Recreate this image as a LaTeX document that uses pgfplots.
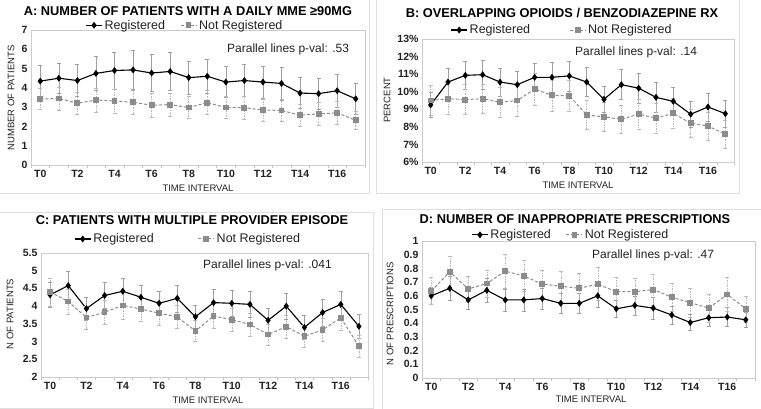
\documentclass[border=0pt]{standalone}
\usepackage{fontspec}
\setmainfont{Liberation Sans}
\usepackage{pgfplots}
\usepackage{pgfplotstable}
\pgfplotsset{compat=1.18}
\definecolor{nrgray}{HTML}{8C8C8C}
\definecolor{txt}{HTML}{222222}

\pgfplotstableread{
x r re n ne
0 4.35 0.80 3.42 0.55
1 4.50 0.80 3.45 0.60
2 4.38 0.82 3.20 0.57
3 4.75 0.90 3.37 0.62
4 4.90 0.95 3.32 0.62
5 4.93 1.00 3.25 0.62
6 4.77 0.97 3.10 0.60
7 4.85 1.00 3.13 0.60
8 4.53 0.87 2.98 0.58
9 4.60 0.87 3.23 0.62
10 4.30 0.80 2.98 0.58
11 4.38 0.83 2.97 0.60
12 4.30 0.82 2.85 0.58
13 4.23 0.85 2.83 0.58
14 3.73 0.80 2.58 0.55
15 3.70 0.82 2.65 0.58
16 3.85 0.85 2.70 0.58
17 3.43 0.80 2.32 0.47
}\dataA

\pgfplotstableread{
x r re n ne
0 9.25 0.70 9.50 0.85
1 10.55 0.80 9.60 0.88
2 10.93 0.80 9.55 0.85
3 10.97 0.82 9.60 0.85
4 10.55 0.80 9.40 0.85
5 10.40 0.78 9.50 0.88
6 10.82 0.80 10.15 0.92
7 10.82 0.85 9.80 0.90
8 10.90 0.85 9.77 0.90
9 10.55 0.82 8.68 0.82
10 9.57 0.72 8.57 0.82
11 10.40 0.85 8.43 0.80
12 10.20 0.85 8.72 0.85
13 9.68 0.83 8.50 0.85
14 9.45 0.80 8.77 0.85
15 8.72 0.75 8.20 0.80
16 9.13 0.80 8.05 0.80
17 8.75 0.75 7.58 0.80
}\dataB

\pgfplotstableread{
x r re n ne
0 4.32 0.35 4.40 0.40
1 4.58 0.40 4.13 0.35
2 3.93 0.32 3.68 0.33
3 4.30 0.37 3.83 0.35
4 4.42 0.37 4.02 0.38
5 4.25 0.35 3.92 0.36
6 4.08 0.35 3.80 0.34
7 4.22 0.38 3.70 0.33
8 3.70 0.32 3.30 0.30
9 4.10 0.37 3.72 0.35
10 4.08 0.36 3.62 0.33
11 4.05 0.36 3.48 0.32
12 3.60 0.34 3.20 0.30
13 4.00 0.36 3.42 0.33
14 3.40 0.33 3.15 0.30
15 3.82 0.38 3.33 0.33
16 4.05 0.38 3.67 0.35
17 3.43 0.33 2.87 0.30
}\dataC

\pgfplotstableread{
x r re n ne
0 0.600 0.065 0.635 0.100
1 0.655 0.090 0.775 0.115
2 0.570 0.070 0.650 0.090
3 0.640 0.085 0.690 0.100
4 0.570 0.080 0.780 0.125
5 0.570 0.080 0.745 0.115
6 0.580 0.075 0.685 0.105
7 0.545 0.070 0.670 0.110
8 0.545 0.070 0.655 0.110
9 0.600 0.080 0.685 0.120
10 0.505 0.065 0.630 0.105
11 0.530 0.070 0.630 0.100
12 0.510 0.080 0.645 0.115
13 0.460 0.065 0.590 0.105
14 0.405 0.060 0.550 0.105
15 0.440 0.065 0.510 0.100
16 0.445 0.070 0.610 0.125
17 0.425 0.055 0.505 0.095
}\dataD

\pgfplotsset{
  panel/.style={
    scale only axis,
    anchor=north west,
    xmin=-0.5, xmax=17.5,
    axis line style={draw=gray!40},
    xtick={0,2,4,6,8,10,12,14,16},
    xticklabels={T0,T2,T4,T6,T8,T10,T12,T14,T16},
    minor xtick={-0.5,0.5,...,17.5},
    xtick pos=bottom, ytick pos=left,
    tick align=outside,
    major tick length=0pt,
    minor tick length=3pt,
    tick style={gray!50},
    ytick style={draw=none},
    tick label style={font=\fontsize{10.5}{12}\selectfont\bfseries, text=txt},
    xticklabel style={yshift=-2pt},
    clip=false,
    legend cell align=left,
    legend image code/.code={\draw[mark repeat=2,mark phase=2,##1] plot coordinates {(0pt,0pt) (8pt,0pt) (16pt,0pt)};},
  },
  reg/.style={black, line width=1.1pt, mark=diamond*, mark size=2.6pt, mark options={solid},
    error bars/y dir=both, error bars/y explicit,
    error bars/error bar style={gray!75, line width=0.5pt, solid},
    error bars/error mark options={gray!75, mark size=2pt, line width=0.5pt, solid, rotate=90}},
  nreg/.style={nrgray, line width=1pt, dash pattern=on 3pt off 2pt, mark=square*, mark size=2.4pt, mark options={solid},
    error bars/y dir=both, error bars/y explicit,
    error bars/error bar style={gray!55, line width=0.5pt, dash pattern=on 1.5pt off 1pt},
    error bars/error mark options={gray!55, mark size=2pt, line width=0.5pt, solid, rotate=90}},
  leg/.style={legend style={at={#1}, anchor=center, draw=none, fill=none, legend columns=2,
    font=\fontsize{12.5}{14}\selectfont, text=txt, inner sep=0pt}},
}

\begin{document}
\begin{tikzpicture}
\path[use as bounding box] (0,0) rectangle (761pt,-409pt);
\draw[gray!25, line width=0.8pt] (-1pt,1pt) rectangle (369pt,-193pt);
\draw[gray!25, line width=0.8pt] (376pt,1pt) rectangle (739pt,-193pt);
\draw[gray!25, line width=0.8pt] (-1pt,-212pt) rectangle (373pt,-408pt);
\draw[gray!25, line width=0.8pt] (382pt,-209pt) rectangle (762pt,-410pt);

% Panel A
\begin{axis}[panel, at={(31pt,-30pt)}, width=334pt, height=135pt,
  ymin=0, ymax=7, ytick={0,1,2,3,4,5,6,7}, yticklabels={0,1,2,3,4,5,6,7},
  leg={(0.461,1.035)}, legend style={/tikz/every even column/.append style={column sep=13pt}}]
\addplot[reg] table[x=x, y=r, y error=re] {\dataA};
\addlegendentry{Registered}
\addplot[nreg] table[x=x, y=n, y error=ne] {\dataA};
\addlegendentry{Not Registered}
\end{axis}

% Panel B
\begin{axis}[panel, at={(422pt,-39pt)}, width=312pt, height=123pt,
  ymin=6, ymax=13, ytick={6,7,8,9,10,11,12,13}, yticklabels={6\%,7\%,8\%,9\%,10\%,11\%,12\%,13\%},
  leg={(0.449,1.073)}, legend style={/tikz/every even column/.append style={column sep=37pt}}]
\addplot[reg] table[x=x, y=r, y error=re] {\dataB};
\addlegendentry{Registered}
\addplot[nreg] table[x=x, y=n, y error=ne] {\dataB};
\addlegendentry{Not Registered}
\end{axis}

% Panel C
\begin{axis}[panel, at={(41pt,-253pt)}, width=327pt, height=124pt,
  ymin=2, ymax=5.5, ytick={2,2.5,3,3.5,4,4.5,5,5.5}, yticklabels={2,2.5,3,3.5,4,4.5,5,5.5},
  leg={(0.45,1.113)}, legend style={/tikz/every even column/.append style={column sep=42pt}}]
\addplot[reg] table[x=x, y=r, y error=re] {\dataC};
\addlegendentry{Registered}
\addplot[nreg] table[x=x, y=n, y error=ne] {\dataC};
\addlegendentry{Not Registered}
\end{axis}

% Panel D
\begin{axis}[panel, at={(422pt,-241pt)}, width=333pt, height=137pt,
  ymin=0, ymax=1, ytick={0,0.1,0.2,0.3,0.4,0.5,0.6,0.7,0.8,0.9,1},
  yticklabels={0,0.1,0.2,0.3,0.4,0.5,0.6,0.7,0.8,0.9,1},
  leg={(0.447,1.045)}, legend style={/tikz/every even column/.append style={column sep=13pt}}]
\addplot[reg] table[x=x, y=r, y error=re] {\dataD};
\addlegendentry{Registered}
\addplot[nreg] table[x=x, y=n, y error=ne] {\dataD};
\addlegendentry{Not Registered}
\end{axis}

% Titles
\begin{scope}[every node/.style={font=\fontsize{12.8}{15}\selectfont\bfseries, text=black, inner sep=0pt}]
\node at (188pt,-11pt) {A: NUMBER OF PATIENTS WITH A DAILY MME ≥90MG};
\node at (562pt,-13pt) {B: OVERLAPPING OPIOIDS / BENZODIAZEPINE RX};
\node at (192pt,-220pt) {C: PATIENTS WITH MULTIPLE PROVIDER EPISODE};
\node at (575pt,-219pt) {D: NUMBER OF INAPPROPRIATE PRESCRIPTIONS};
\end{scope}

% p-values
\begin{scope}[every node/.style={font=\fontsize{12}{14}\selectfont, text=txt, anchor=west, inner sep=0pt}]
\node at (227pt,-49pt) {Parallel lines p-val: .53};
\node at (575pt,-52pt) {Parallel lines p-val: .14};
\node at (203pt,-265pt) {Parallel lines p-val: .041};
\node at (592pt,-255pt) {Parallel lines p-val: .47};
\end{scope}

% axis labels
\begin{scope}[every node/.style={font=\fontsize{9.5}{11}\selectfont, text=txt, inner sep=0pt}]
\node at (198pt,-188pt) {TIME INTERVAL};
\node at (578pt,-185pt) {TIME INTERVAL};
\node at (208pt,-400pt) {TIME INTERVAL};
\node at (591pt,-399pt) {TIME INTERVAL};
\node[rotate=90] at (11pt,-98pt) {NUMBER OF PATIENTS};
\node[rotate=90] at (387pt,-100pt) {PERCENT};
\node[rotate=90] at (10pt,-314pt) {N OF PATIENTS};
\node[rotate=90] at (390pt,-314pt) {N OF PRESCRIPTIONS};
\end{scope}
\end{tikzpicture}
\end{document}
